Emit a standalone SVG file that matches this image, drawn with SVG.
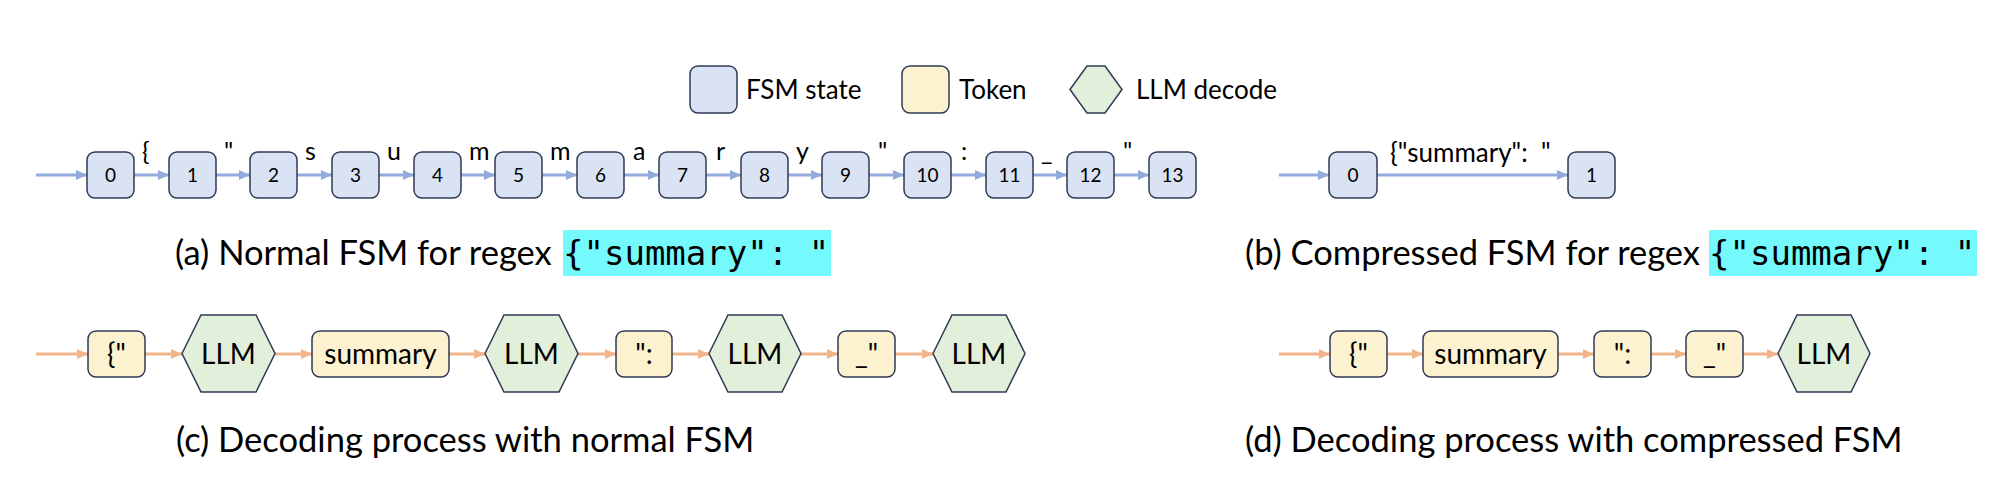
<svg xmlns="http://www.w3.org/2000/svg" width="2008" height="484" viewBox="0 0 2008 484">
<style>
.st{fill:#DAE3F3;stroke:#2F3A56;stroke-width:1.5}
.tk{fill:#FCF2D0;stroke:#2F3A56;stroke-width:1.5}
.hx{fill:#E2EFDA;stroke:#2F3A56;stroke-width:1.5}
.t{font-family:Lato,"Liberation Sans",sans-serif;fill:#000}
.num{font-size:19px;text-anchor:middle}
.lab{font-size:25px}
.tok{font-size:28px;text-anchor:middle}
.leg{font-size:26px}
.cap{font-size:34.5px}
.mono{font-family:"DejaVu Sans Mono","Liberation Mono",monospace;font-size:34px;fill:#000}
.hl{fill:#74F9FC}
.eb{stroke:#92ABDC;stroke-width:3;fill:none}
.eo{stroke:#F2B48A;stroke-width:3;fill:none}
</style>
<defs>
<marker id="ab" markerUnits="userSpaceOnUse" markerWidth="11" markerHeight="10" refX="11" refY="5" orient="auto"><path d="M0,0 L11,5 L0,10 z" fill="#92ABDC"/></marker>
<marker id="ao" markerUnits="userSpaceOnUse" markerWidth="11" markerHeight="10" refX="11" refY="5" orient="auto"><path d="M0,0 L11,5 L0,10 z" fill="#F2B48A"/></marker>
</defs>
<rect width="2008" height="484" fill="#fff"/>

<g id="legend">
<g id="legend-state"><rect class="st" x="690" y="66" width="47" height="47" rx="8"/><text class="t leg" x="746" y="99">FSM state</text></g>
<g id="legend-token"><rect class="tk" x="902" y="66" width="47" height="47" rx="8"/><text class="t leg" x="959" y="99">Token</text></g>
<g id="legend-llm"><polygon class="hx" points="1070,89.5 1087,66 1105,66 1122,89.5 1105,113 1087,113"/><text class="t leg" x="1136" y="99">LLM decode</text></g>
</g>

<g id="connectors">
<g id="edges-a">
<line class="eb" x1="36" y1="175" x2="87" y2="175" marker-end="url(#ab)"/>
<line class="eb" x1="134" y1="175" x2="169" y2="175" marker-end="url(#ab)"/>
<line class="eb" x1="216" y1="175" x2="250" y2="175" marker-end="url(#ab)"/>
<line class="eb" x1="297" y1="175" x2="332" y2="175" marker-end="url(#ab)"/>
<line class="eb" x1="379" y1="175" x2="414" y2="175" marker-end="url(#ab)"/>
<line class="eb" x1="461" y1="175" x2="495" y2="175" marker-end="url(#ab)"/>
<line class="eb" x1="542" y1="175" x2="577" y2="175" marker-end="url(#ab)"/>
<line class="eb" x1="624" y1="175" x2="659" y2="175" marker-end="url(#ab)"/>
<line class="eb" x1="706" y1="175" x2="741" y2="175" marker-end="url(#ab)"/>
<line class="eb" x1="788" y1="175" x2="822" y2="175" marker-end="url(#ab)"/>
<line class="eb" x1="869" y1="175" x2="904" y2="175" marker-end="url(#ab)"/>
<line class="eb" x1="951" y1="175" x2="986" y2="175" marker-end="url(#ab)"/>
<line class="eb" x1="1033" y1="175" x2="1067" y2="175" marker-end="url(#ab)"/>
<line class="eb" x1="1114" y1="175" x2="1149" y2="175" marker-end="url(#ab)"/>
</g>
<g id="edge-labels-a">
<text class="t lab" x="142" y="160">{</text>
<text class="t lab" x="224" y="160">"</text>
<text class="t lab" x="305" y="160">s</text>
<text class="t lab" x="387" y="160">u</text>
<text class="t lab" x="469" y="160">m</text>
<text class="t lab" x="550" y="160">m</text>
<text class="t lab" x="633" y="160">a</text>
<text class="t lab" x="716" y="160">r</text>
<text class="t lab" x="796" y="160">y</text>
<text class="t lab" x="878" y="160">"</text>
<text class="t lab" x="961" y="160">:</text>
<text class="t lab" x="1041" y="160">_</text>
<text class="t lab" x="1123" y="160">"</text>
</g>
<g id="edges-b">
<line class="eb" x1="1279" y1="175" x2="1329" y2="175" marker-end="url(#ab)"/>
<line class="eb" x1="1377" y1="175" x2="1568" y2="175" marker-end="url(#ab)"/>
<text class="t" x="1390" y="162" font-size="26" xml:space="preserve">{"summary":  "</text>
</g>
<g id="edges-c">
<line class="eo" x1="36" y1="354" x2="88" y2="354" marker-end="url(#ao)"/>
<line class="eo" x1="145" y1="354" x2="182" y2="354" marker-end="url(#ao)"/>
<line class="eo" x1="275" y1="354" x2="312" y2="354" marker-end="url(#ao)"/>
<line class="eo" x1="449" y1="354" x2="485" y2="354" marker-end="url(#ao)"/>
<line class="eo" x1="578" y1="354" x2="616" y2="354" marker-end="url(#ao)"/>
<line class="eo" x1="672" y1="354" x2="709" y2="354" marker-end="url(#ao)"/>
<line class="eo" x1="801" y1="354" x2="838" y2="354" marker-end="url(#ao)"/>
<line class="eo" x1="895" y1="354" x2="933" y2="354" marker-end="url(#ao)"/>
</g>
<g id="edges-d">
<line class="eo" x1="1279" y1="354" x2="1330" y2="354" marker-end="url(#ao)"/>
<line class="eo" x1="1387" y1="354" x2="1423" y2="354" marker-end="url(#ao)"/>
<line class="eo" x1="1558" y1="354" x2="1594" y2="354" marker-end="url(#ao)"/>
<line class="eo" x1="1651" y1="354" x2="1686" y2="354" marker-end="url(#ao)"/>
<line class="eo" x1="1743" y1="354" x2="1778" y2="354" marker-end="url(#ao)"/>
</g>
</g>

<g id="fsm-a">
<g id="a0"><rect class="st" x="87" y="152" width="47" height="46" rx="8"/><text class="t num" x="110.5" y="182">0</text></g>
<g id="a1"><rect class="st" x="169" y="152" width="47" height="46" rx="8"/><text class="t num" x="192.5" y="182">1</text></g>
<g id="a2"><rect class="st" x="250" y="152" width="47" height="46" rx="8"/><text class="t num" x="273.5" y="182">2</text></g>
<g id="a3"><rect class="st" x="332" y="152" width="47" height="46" rx="8"/><text class="t num" x="355.5" y="182">3</text></g>
<g id="a4"><rect class="st" x="414" y="152" width="47" height="46" rx="8"/><text class="t num" x="437.5" y="182">4</text></g>
<g id="a5"><rect class="st" x="495" y="152" width="47" height="46" rx="8"/><text class="t num" x="518.5" y="182">5</text></g>
<g id="a6"><rect class="st" x="577" y="152" width="47" height="46" rx="8"/><text class="t num" x="600.5" y="182">6</text></g>
<g id="a7"><rect class="st" x="659" y="152" width="47" height="46" rx="8"/><text class="t num" x="682.5" y="182">7</text></g>
<g id="a8"><rect class="st" x="741" y="152" width="47" height="46" rx="8"/><text class="t num" x="764.5" y="182">8</text></g>
<g id="a9"><rect class="st" x="822" y="152" width="47" height="46" rx="8"/><text class="t num" x="845.5" y="182">9</text></g>
<g id="a10"><rect class="st" x="904" y="152" width="47" height="46" rx="8"/><text class="t num" x="927.5" y="182">10</text></g>
<g id="a11"><rect class="st" x="986" y="152" width="47" height="46" rx="8"/><text class="t num" x="1009.5" y="182">11</text></g>
<g id="a12"><rect class="st" x="1067" y="152" width="47" height="46" rx="8"/><text class="t num" x="1090.5" y="182">12</text></g>
<g id="a13"><rect class="st" x="1149" y="152" width="47" height="46" rx="8"/><text class="t num" x="1172.5" y="182">13</text></g>
</g>

<g id="fsm-b">
<g id="b0"><rect class="st" x="1329" y="152" width="48" height="46" rx="8"/><text class="t num" x="1353" y="182">0</text></g>
<g id="b1"><rect class="st" x="1568" y="152" width="47" height="46" rx="8"/><text class="t num" x="1591.5" y="182">1</text></g>
</g>

<g id="decode-c">
<g id="c1"><rect class="tk" x="88" y="331" width="57" height="46" rx="8"/><text class="t tok" x="116.5" y="364">{"</text></g>
<g id="c2"><polygon class="hx" points="182,353.5 201,315 256,315 275,353.5 256,392 201,392"/><text class="t tok" x="228.5" y="364">LLM</text></g>
<g id="c3"><rect class="tk" x="312" y="331" width="137" height="46" rx="8"/><text class="t tok" x="380.5" y="364">summary</text></g>
<g id="c4"><polygon class="hx" points="485,353.5 504,315 559,315 578,353.5 559,392 504,392"/><text class="t tok" x="531.5" y="364">LLM</text></g>
<g id="c5"><rect class="tk" x="616" y="331" width="56" height="46" rx="8"/><text class="t tok" x="644" y="364">":</text></g>
<g id="c6"><polygon class="hx" points="709,353.5 728,315 782,315 801,353.5 782,392 728,392"/><text class="t tok" x="755" y="364">LLM</text></g>
<g id="c7"><rect class="tk" x="838" y="331" width="57" height="46" rx="8"/><text class="t tok" x="866.5" y="364">_"</text></g>
<g id="c8"><polygon class="hx" points="933,353.5 952,315 1006,315 1025,353.5 1006,392 952,392"/><text class="t tok" x="979" y="364">LLM</text></g>
</g>

<g id="decode-d">
<g id="d1"><rect class="tk" x="1330" y="331" width="57" height="46" rx="8"/><text class="t tok" x="1358.5" y="364">{"</text></g>
<g id="d2"><rect class="tk" x="1423" y="331" width="135" height="46" rx="8"/><text class="t tok" x="1490.5" y="364">summary</text></g>
<g id="d3"><rect class="tk" x="1594" y="331" width="57" height="46" rx="8"/><text class="t tok" x="1622.5" y="364">":</text></g>
<g id="d4"><rect class="tk" x="1686" y="331" width="57" height="46" rx="8"/><text class="t tok" x="1714.5" y="364">_"</text></g>
<g id="d5"><polygon class="hx" points="1778,353.5 1797,315 1851,315 1870,353.5 1851,392 1797,392"/><text class="t tok" x="1824" y="364">LLM</text></g>
</g>

<g id="captions">
<g id="cap-a"><text class="t cap" x="175" y="265">(a) Normal FSM for regex</text><rect class="hl" x="563" y="230" width="268" height="46"/><text class="mono" x="563" y="265" xml:space="preserve">{"summary": "</text></g>
<g id="cap-b"><text class="t cap" x="1245" y="265">(b) Compressed FSM for regex</text><rect class="hl" x="1709" y="230" width="268" height="46"/><text class="mono" x="1709" y="265" xml:space="preserve">{"summary": "</text></g>
<g id="cap-c"><text class="t cap" x="176" y="452">(c) Decoding process with normal FSM</text></g>
<g id="cap-d"><text class="t cap" x="1245" y="452">(d) Decoding process with compressed FSM</text></g>
</g>
</svg>
